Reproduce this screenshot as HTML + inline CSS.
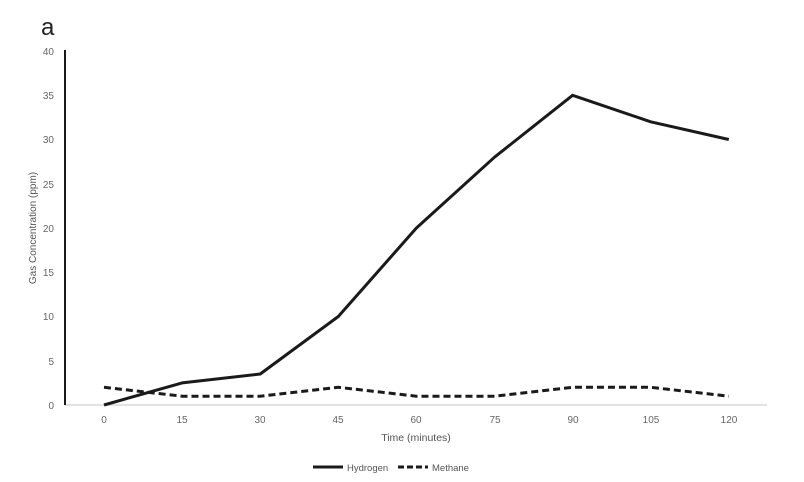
<!DOCTYPE html>
<html><head><style>body{margin:0;background:#fff}svg{display:block}</style></head><body>
<svg width="804" height="482" xmlns="http://www.w3.org/2000/svg" font-family="Liberation Sans, sans-serif">
<rect width="804" height="482" fill="#fff"/>
<text x="41" y="35" font-size="24" fill="#222">a</text>
<g font-size="10" fill="#666" text-anchor="end">
<text x="54" y="55">40</text><text x="54" y="99">35</text><text x="54" y="143">30</text><text x="54" y="188">25</text><text x="54" y="232">20</text><text x="54" y="276">15</text><text x="54" y="320">10</text><text x="54" y="365">5</text><text x="54" y="409">0</text>
</g>
<line x1="65" y1="405" x2="767" y2="405" stroke="#d9d9d9" stroke-width="1.5"/>
<line x1="65" y1="50" x2="65" y2="405" stroke="#1a1a1a" stroke-width="2"/>
<g font-size="10" fill="#666" text-anchor="middle">
<text x="104" y="423">0</text><text x="182" y="423">15</text><text x="260" y="423">30</text><text x="338" y="423">45</text><text x="416" y="423">60</text><text x="495" y="423">75</text><text x="573" y="423">90</text><text x="651" y="423">105</text><text x="729" y="423">120</text>
</g>
<text x="416" y="441" font-size="10.5" fill="#555" text-anchor="middle">Time (minutes)</text>
<text transform="translate(36,228) rotate(-90)" font-size="10" fill="#555" text-anchor="middle">Gas Concentration (ppm)</text>
<polyline fill="none" stroke="#1a1a1a" stroke-width="3" stroke-linejoin="round" points="104,405 182.1,382.9 260.2,374 338.3,316.5 416.4,228 494.5,157.2 572.6,95.3 650.7,121.8 728.8,139.5"/>
<polyline fill="none" stroke="#1a1a1a" stroke-width="3" stroke-dasharray="7,4" points="104,387.3 182.1,396.2 260.2,396.2 338.3,387.3 416.4,396.2 494.5,396.2 572.6,387.3 650.7,387.3 728.8,396.2"/>
<line x1="313" y1="467" x2="343" y2="467" stroke="#1a1a1a" stroke-width="3"/>
<text x="347" y="471" font-size="9.5" fill="#555">Hydrogen</text>
<line x1="398" y1="467" x2="428" y2="467" stroke="#1a1a1a" stroke-width="3" stroke-dasharray="6,3"/>
<text x="432" y="471" font-size="9.5" fill="#555">Methane</text>
</svg>
</body></html>
